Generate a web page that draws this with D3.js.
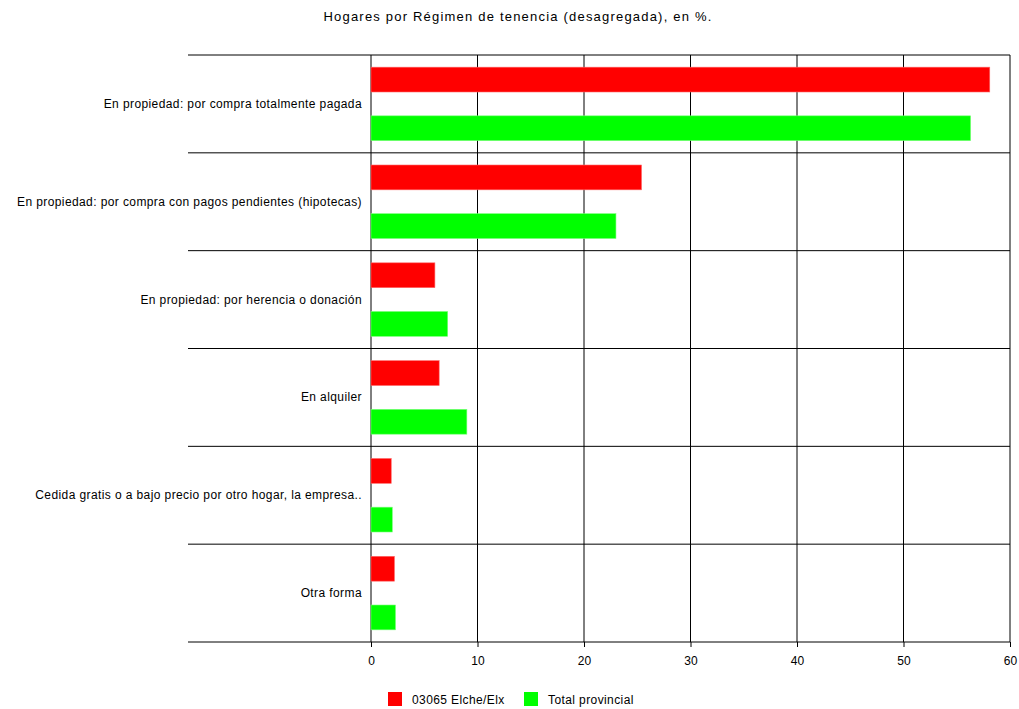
<!DOCTYPE html>
<html>
<head>
<meta charset="utf-8">
<script src="https://cdn.jsdelivr.net/npm/d3@7"></script>
<style>
  body { margin: 0; background: #fff; }
  svg { font-family: Arial, "Liberation Sans", sans-serif; }
</style>
</head>
<body>
<svg id="chart" width="1019" height="709"></svg>
<script>
const categories = [
  "En propiedad: por compra totalmente pagada",
  "En propiedad: por compra con pagos pendientes (hipotecas)",
  "En propiedad: por herencia o donación",
  "En alquiler",
  "Cedida gratis o a bajo precio por otro hogar, la empresa..",
  "Otra forma"
];
const seriesNames = ["03065 Elche/Elx", "Total provincial"];
const elche = [58.1, 25.4, 6.0, 6.4, 1.9, 2.2];
const provincial = [56.3, 23.0, 7.2, 9.0, 2.0, 2.3];
const xTicks = [0, 10, 20, 30, 40, 50, 60];
const colors = ["#ff0000", "#00ff00"];

const svg = d3.select("#chart"),
  width = +svg.attr("width"),
  height = +svg.attr("height");

const margin = { left: 371, right: 9, top: 55, bottom: 67 };
const labelLeft = 188;

// scales
const x = d3.scaleLinear()
  .domain([0, 60])
  .range([margin.left, width - margin.right]);

const y = d3.scaleBand()
  .domain(categories)
  .range([margin.top, height - margin.bottom]);

const ySub = d3.scaleBand()
  .domain([0, 1])
  .range([0, y.bandwidth()])
  .paddingInner(0.49)
  .paddingOuter(0.25);

// title
svg.append("text")
  .attr("x", 518)
  .attr("y", 21)
  .attr("text-anchor", "middle")
  .attr("font-size", 13)
  .attr("letter-spacing", 1.2)
  .attr("fill", "#000")
  .text("Hogares por Régimen de tenencia (desagregada), en %.");

// vertical gridlines
svg.append("g")
  .selectAll("line")
  .data(xTicks)
  .join("line")
  .attr("x1", d => x(d))
  .attr("x2", d => x(d))
  .attr("y1", margin.top)
  .attr("y2", height - margin.bottom)
  .attr("stroke", "#000")
  .attr("stroke-width", 1);

// horizontal category separators
const seps = categories.map(c => y(c)).concat([height - margin.bottom]);
svg.append("g")
  .selectAll("line")
  .data(seps)
  .join("line")
  .attr("x1", labelLeft)
  .attr("x2", width - margin.right)
  .attr("y1", d => d)
  .attr("y2", d => d)
  .attr("stroke", "#000")
  .attr("stroke-width", 1);

// bars
const groups = svg.append("g")
  .selectAll("g")
  .data(categories)
  .join("g")
  .attr("transform", d => `translate(0,${y(d)})`);

groups.selectAll("rect")
  .data((d, i) => [elche[i], provincial[i]])
  .join("rect")
  .attr("x", x(0))
  .attr("y", (d, j) => ySub(j))
  .attr("width", d => x(d) - x(0))
  .attr("height", ySub.bandwidth())
  .attr("fill", (d, j) => colors[j])
  .attr("stroke", (d, j) => j === 0 ? "#ff6666" : "#77ff77")
  .attr("stroke-width", 0.6);

// category labels
svg.append("g")
  .selectAll("text")
  .data(categories)
  .join("text")
  .attr("x", 362)
  .attr("y", d => y(d) + y.bandwidth() / 2 + 4)
  .attr("text-anchor", "end")
  .attr("font-size", 12)
  .attr("letter-spacing", 0.4)
  .attr("fill", "#000")
  .text(d => d);

// x axis
svg.append("g")
  .attr("transform", `translate(0,${height - margin.bottom})`)
  .call(d3.axisBottom(x).tickValues(xTicks).tickSize(5).tickFormat(d3.format("d")))
  .call(g => g.select(".domain").remove())
  .call(g => g.selectAll("line").attr("stroke", "#000"))
  .call(g => g.selectAll("text")
    .attr("font-size", 12)
    .attr("font-family", "Arial, 'Liberation Sans', sans-serif")
    .attr("fill", "#000")
    .attr("y", 14)
    .attr("dy", "0.71em"));

// legend
const legendX = [388, 524];
const legend = svg.append("g")
  .selectAll("g")
  .data(seriesNames)
  .join("g")
  .attr("transform", (d, i) => `translate(${legendX[i]},692)`);

legend.append("rect")
  .attr("width", 14)
  .attr("height", 14)
  .attr("fill", (d, i) => colors[i]);

legend.append("text")
  .attr("x", 24)
  .attr("y", 11.5)
  .attr("font-size", 12)
  .attr("letter-spacing", 0.4)
  .attr("fill", "#000")
  .text(d => d);
</script>
</body>
</html>
